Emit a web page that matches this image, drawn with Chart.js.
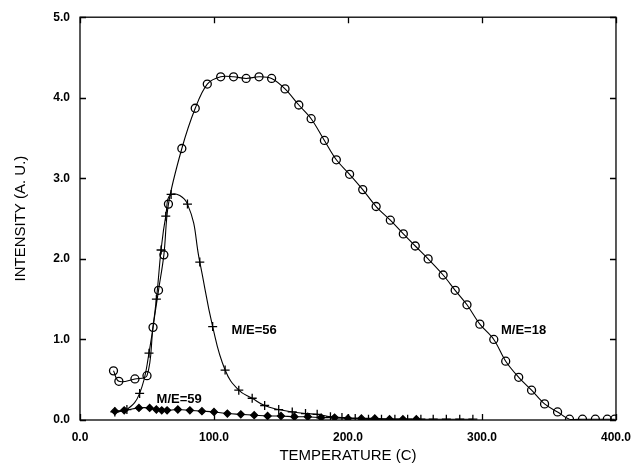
<!DOCTYPE html>
<html>
<head>
<meta charset="utf-8">
<script src="https://cdn.jsdelivr.net/npm/chart.js@4.4.1/dist/chart.umd.min.js"></script>
<style>
  html, body { margin: 0; padding: 0; background: #fff; }
  #wrap { width: 641px; height: 465px; }
</style>
</head>
<body>
<div id="wrap"><canvas id="tpdChart" width="641" height="465"></canvas></div>
<script>
// temperature (C) / intensity (A. U.)
const tempM18 = [25, 29, 41, 50, 54.5, 58.6, 62.6, 66, 76, 86, 95, 105, 114.6, 124, 133.6, 143, 153, 163.3, 172.5, 182.4, 191.3, 201.2, 211, 221, 231.6, 241.3, 250.2, 259.8, 271, 280, 288.8, 298.4, 308.8, 317.7, 327.4, 337, 346.7, 356.4, 365.3, 375, 384.6, 393.5, 399];
const intM18 = [0.61, 0.48, 0.51, 0.55, 1.15, 1.61, 2.05, 2.68, 3.37, 3.87, 4.17, 4.26, 4.26, 4.24, 4.26, 4.24, 4.11, 3.91, 3.74, 3.47, 3.23, 3.05, 2.86, 2.65, 2.48, 2.31, 2.16, 2.00, 1.80, 1.61, 1.43, 1.19, 1.00, 0.73, 0.53, 0.37, 0.20, 0.10, 0.01, 0.01, 0.01, 0.01, 0.01];

const tempM56 = [26, 35, 44.5, 51.5, 57, 60.5, 64, 68, 80.2, 89.4, 99, 108.3, 118.5, 128.5, 137.8, 148.3, 158.4, 168.3, 177, 186.9, 195.5, 205.4, 215.3, 225, 235, 244.5, 254.4, 263.6, 273.4, 283.4, 293.2];
const intM56 = [0.10, 0.13, 0.33, 0.83, 1.50, 2.11, 2.53, 2.80, 2.68, 1.96, 1.16, 0.62, 0.37, 0.27, 0.18, 0.13, 0.10, 0.08, 0.07, 0.04, 0.03, 0.02, 0.01, 0.01, 0.01, 0.01, 0.01, 0.01, 0.01, 0.01, 0.01];

const tempM59 = [26, 33, 44, 52, 57, 61, 65, 73, 82, 91, 100, 110, 120, 130, 140, 150, 160, 170, 180, 190, 200, 210, 220, 231, 241, 251];
const intM59 = [0.11, 0.12, 0.15, 0.15, 0.13, 0.12, 0.12, 0.13, 0.12, 0.11, 0.10, 0.08, 0.07, 0.06, 0.05, 0.05, 0.04, 0.04, 0.03, 0.03, 0.02, 0.02, 0.02, 0.01, 0.01, 0.01];

const xTicks = [0, 100, 200, 300, 400];
const yTicks = [0, 1, 2, 3, 4, 5];

// curve labels, placed in data units
const curveLabels = [
    { text: 'M/E=18', x: 331, y: 1.11 },
    { text: 'M/E=56', x: 130, y: 1.11 },
    { text: 'M/E=59', x: 74, y: 0.25 }
];

function pts(xs, ys) {
    return xs.map(function (x, i) { return { x: x, y: ys[i] }; });
}

const FONT = "'Liberation Sans', Arial, sans-serif";

// frame, inward ticks and curve labels
const decor = {
    id: 'decor',
    afterDraw: function (chart) {
        const c = chart.ctx;
        const a = chart.chartArea;
        const xs = chart.scales.x, ys = chart.scales.y;
        c.save();
        c.strokeStyle = '#000';
        c.lineWidth = 1.3;
        c.strokeRect(a.left, a.top, a.right - a.left, a.bottom - a.top);
        c.beginPath();
        xTicks.forEach(function (v) {
            const px = Math.round(xs.getPixelForValue(v)) + 0.5;
            c.moveTo(px, a.bottom); c.lineTo(px, a.bottom - 6);
            c.moveTo(px, a.top); c.lineTo(px, a.top + 6);
        });
        yTicks.forEach(function (v) {
            const py = Math.round(ys.getPixelForValue(v)) + 0.5;
            c.moveTo(a.left, py); c.lineTo(a.left + 6, py);
            c.moveTo(a.right, py); c.lineTo(a.right - 6, py);
        });
        c.stroke();
        c.fillStyle = '#000';
        c.font = 'bold 13px ' + FONT;
        c.textAlign = 'center';
        c.textBaseline = 'middle';
        curveLabels.forEach(function (l) {
            c.fillText(l.text, xs.getPixelForValue(l.x), ys.getPixelForValue(l.y));
        });
        c.restore();
    }
};

const common = {
    showLine: true,
    borderColor: '#000',
    borderWidth: 1.1,
    tension: 0.35,
    pointBorderColor: '#000',
    pointBorderWidth: 1.3
};

new Chart(document.getElementById('tpdChart').getContext('2d'), {
    type: 'scatter',
    data: {
        datasets: [
            Object.assign({}, common, {
                label: 'M/E=18',
                data: pts(tempM18, intM18),
                pointStyle: 'circle',
                pointRadius: 4,
                pointBackgroundColor: 'rgba(0,0,0,0)'
            }),
            Object.assign({}, common, {
                label: 'M/E=56',
                data: pts(tempM56, intM56),
                tension: 0.45,
                pointStyle: 'cross',
                pointRadius: 4.5,
                pointBackgroundColor: '#000'
            }),
            Object.assign({}, common, {
                label: 'M/E=59',
                data: pts(tempM59, intM59),
                pointStyle: 'rectRot',
                pointRadius: 3.5,
                pointBackgroundColor: '#000'
            })
        ]
    },
    options: {
        responsive: false,
        animation: false,
        devicePixelRatio: 1,
        layout: { padding: { top: 16, right: 22, left: 0, bottom: 0 } },
        plugins: {
            legend: { display: false },
            tooltip: { enabled: false }
        },
        scales: {
            x: {
                type: 'linear',
                min: 0,
                max: 400,
                afterFit: function (s) { s.height = 45; },
                afterBuildTicks: function (s) { s.ticks = xTicks.map(function (v) { return { value: v }; }); },
                grid: { display: false, drawTicks: false },
                border: { display: false },
                ticks: {
                    color: '#000',
                    padding: 10,
                    maxRotation: 0,
                    font: { family: FONT, size: 12, weight: 'bold' },
                    callback: function (v) { return v.toFixed(1); }
                },
                title: {
                    display: true,
                    text: 'TEMPERATURE (C)',
                    color: '#000',
                    padding: { top: 0, bottom: 0 },
                    font: { family: FONT, size: 15 }
                }
            },
            y: {
                min: 0,
                max: 5,
                afterFit: function (s) { s.width = 80; },
                afterBuildTicks: function (s) { s.ticks = yTicks.map(function (v) { return { value: v }; }); },
                grid: { display: false, drawTicks: false },
                border: { display: false },
                ticks: {
                    color: '#000',
                    padding: 10,
                    font: { family: FONT, size: 12, weight: 'bold' },
                    callback: function (v) { return v.toFixed(1); }
                },
                title: {
                    display: true,
                    text: 'INTENSITY (A. U.)',
                    color: '#000',
                    padding: { top: 12, bottom: 0 },
                    font: { family: FONT, size: 15 }
                }
            }
        }
    },
    plugins: [decor]
});
</script>
</body>
</html>
